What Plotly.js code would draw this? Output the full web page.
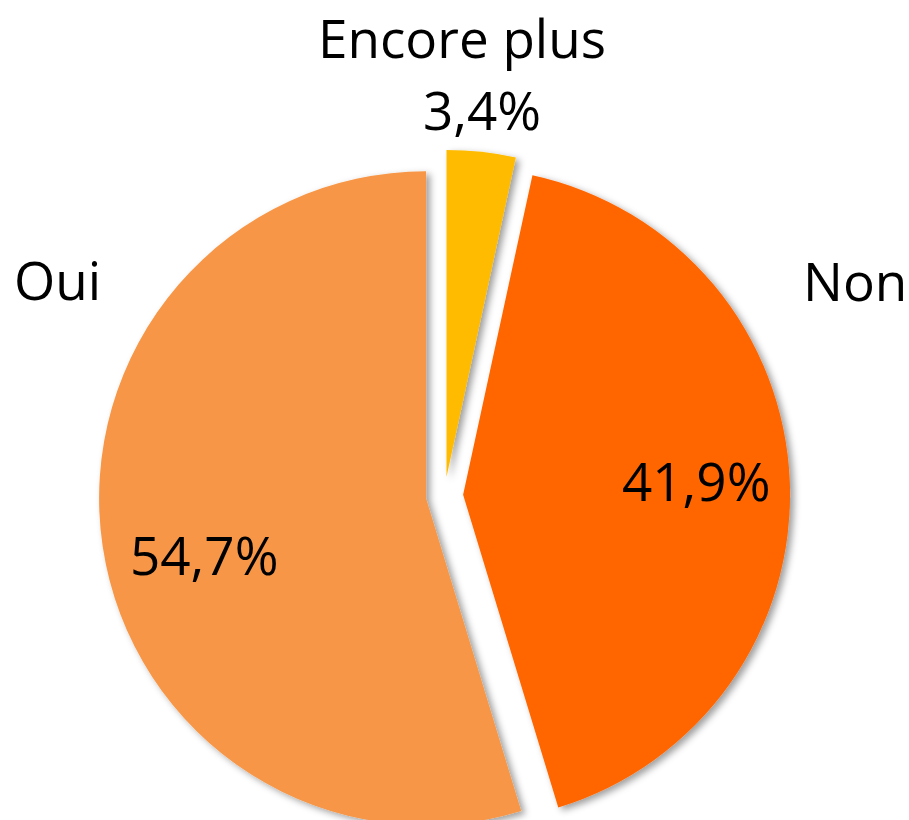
<!DOCTYPE html>
<html>
<head>
<meta charset="utf-8">
<script src="https://cdn.plot.ly/plotly-3.0.1.min.js"></script>
<style>
  html, body { margin: 0; padding: 0; overflow: hidden; background: #fff; }
  #chart { width: 909px; height: 850px; }
  .js-plotly-plot .pielayer path.surface { filter: url(#sliceShadow); }
</style>
</head>
<body>
<svg width="0" height="0" style="position:absolute">
  <defs>
    <filter id="sliceShadow" x="-20%" y="-20%" width="140%" height="140%">
      <feDropShadow dx="4" dy="3" stdDeviation="3.5" flood-color="#000" flood-opacity="0.38"/>
    </filter>
  </defs>
</svg>
<div id="chart"></div>
<script>
// Data
const categories = ["Encore plus", "Non", "Oui"];
const values = [3.4, 41.9, 54.7];
const colors = ["#FFBB00", "#FF6600", "#F79646"];

const W = 909, H = 850;
const FONT = "Open Sans, Noto Sans, sans-serif";
const FS = 53;

// Label placement (pixels): category names and percentage labels
const namePos = { "Encore plus": [462, 0, "top"], "Non": [855, 280.5, "middle"], "Oui": [57.5, 279.5, "middle"] };
const pctPos  = { "Encore plus": [481.5, 110, "middle"], "Non": [695.5, 480.5, "middle"], "Oui": [203.5, 554, "middle"] };

const total = values.reduce((a, b) => a + b, 0);
const pctText = values.map(v => (v / total * 100).toFixed(1).replace(".", ",") + "%");

const trace = {
  type: "pie",
  labels: categories,
  values: values,
  sort: false,
  direction: "clockwise",
  rotation: 0,
  pull: [0.057, 0.057, 0.057],
  marker: { colors: colors, line: { width: 0 } },
  textinfo: "none",
  hoverinfo: "none",
  showlegend: false,
  domain: {
    x: [(444.5 - 345.6) / W, (444.5 + 345.6) / W],
    y: [1 - 841.1 / H, 1 - 841.1 / H + 691.2 / H]
  }
};

function ann(text, p) {
  return {
    text: text,
    xref: "paper", yref: "paper",
    x: p[0] / W, y: 1 - p[1] / H,
    xanchor: "center", yanchor: p[2],
    borderpad: 0,
    showarrow: false,
    font: { family: FONT, size: FS, color: "#000" }
  };
}

const annotations = [];
categories.forEach((c, i) => {
  annotations.push(ann(c, namePos[c]));
  annotations.push(ann(pctText[i], pctPos[c]));
});

const layout = {
  width: W, height: H,
  margin: { l: 0, r: 0, t: 0, b: 0 },
  paper_bgcolor: "#fff",
  separators: ", ",
  showlegend: false,
  annotations: annotations
};

Plotly.newPlot("chart", [trace], layout, { displayModeBar: false, staticPlot: true });
</script>
</body>
</html>
